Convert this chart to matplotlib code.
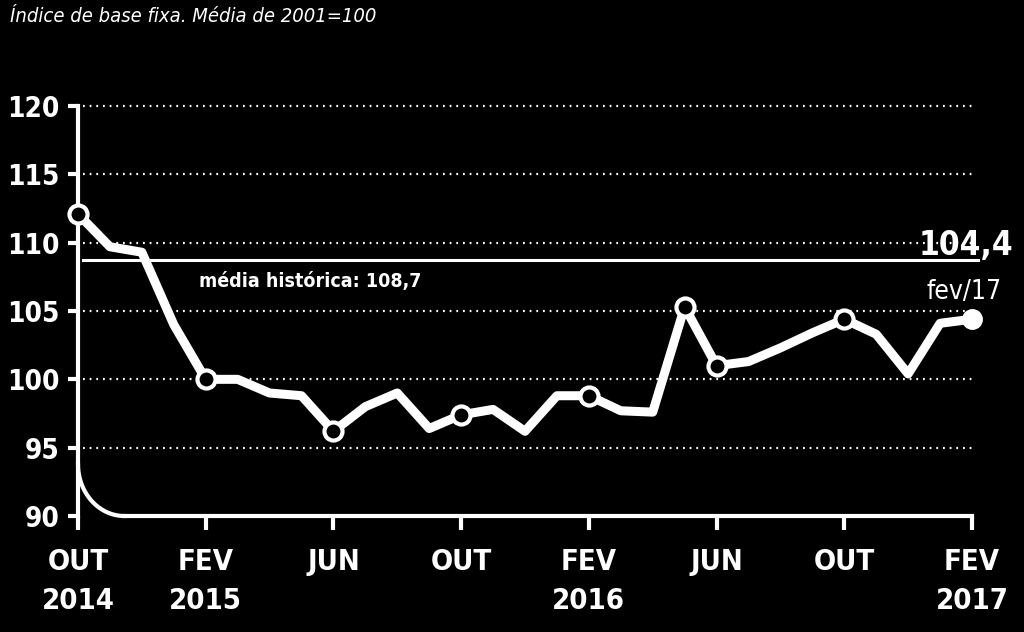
import numpy as np
import matplotlib as mpl
mpl.use('Agg')
from matplotlib import pyplot as plt
from matplotlib import font_manager
from matplotlib.font_manager import FontProperties

# ---------- data ----------
months = list(range(29))   # OUT 2014 .. FEV 2017
index = [112.1, 109.7, 109.3, 104.0, 100.0, 100.0, 99.0, 98.8, 96.2, 98.0,
         99.0, 96.4, 97.4, 97.8, 96.2, 98.8, 98.8, 97.7, 97.6, 105.3,
         101.0, 101.3, 102.3, 103.4, 104.4, 103.3, 100.4, 104.1, 104.4]
marked = [0, 4, 8, 12, 16, 19, 20, 24]
tick_pos = [0, 4, 8, 12, 16, 20, 24, 28]
tick_lbl = ["OUT\n2014", "FEV\n2015", "JUN", "OUT", "FEV\n2016", "JUN", "OUT", "FEV\n2017"]
yticks = [90, 95, 100, 105, 110, 115, 120]
media = 108.7

# look for a narrow/condensed face, else fall back to DejaVu
found = {}
for f in font_manager.fontManager.ttflist:
    narrowish = ('Narrow' in f.name or 'Condensed' in f.name or
                 f.stretch in ('condensed', 'semi-condensed', 'extra-condensed'))
    if not narrowish:
        continue
    w = f.weight if isinstance(f.weight, int) else 700 if f.weight == 'bold' else 400
    key = ('bold' if w >= 600 else 'reg', 'it' if f.style != 'normal' else 'up')
    found.setdefault(key, f.fname)

def fp(bold=False, italic=False, size=12):
    key = ('bold' if bold else 'reg', 'it' if italic else 'up')
    if key in found:
        return FontProperties(fname=found[key], size=size)
    return FontProperties(family='DejaVu Sans', weight='bold' if bold else 'normal',
                          style='italic' if italic else 'normal', size=size * 0.8)

fig = plt.figure(figsize=(10.24, 6.32), dpi=100, facecolor='black')
ax = fig.add_axes([78/1024, 116/632, 894/1024, 410/632], facecolor='black')
ax.set_xlim(0, 28)
ax.set_ylim(90, 120)

# grid + media line
for yv in yticks[1:]:
    ax.plot([0.15, 28.1], [yv, yv], color='white', lw=1.6, ls=(0, (0.8, 2.2)), clip_on=False, zorder=1)
ax.plot([0.15, 28.2], [media, media], color='white', lw=2.2, clip_on=False, zorder=2)
ax.text(3.8, 106.75, "média histórica: 108,7", color='white', fontproperties=fp(True, size=14), va='baseline')

# series
ax.plot(months, index, color='white', lw=6.5, solid_joinstyle='round', zorder=3, clip_on=False)
ax.plot([months[i] for i in marked], [index[i] for i in marked], 'o', ms=13,
        mfc='black', mec='white', mew=3, zorder=4, clip_on=False)
ax.plot(months[-1], index[-1], 'o', ms=14, mfc='white', mec='white', zorder=4, clip_on=False)

ax.text(27.8, 109.1, "104,4", color='white', fontproperties=fp(True, size=24), ha='center', va='baseline')
ax.text(27.75, 105.85, "fev/17", color='white', fontproperties=fp(False, size=19), ha='center', va='baseline')

# axes
for s in ['top', 'right']:
    ax.spines[s].set_visible(False)
ax.spines['left'].set_color('white')
ax.spines['left'].set_linewidth(3)
ax.spines['bottom'].set_color('white')
ax.spines['bottom'].set_linewidth(3)
ax.spines['bottom'].set_bounds(1.45, 28)
t = np.linspace(np.pi, 1.5*np.pi, 40)
ax.plot(1.45 + 1.45*np.cos(t), 93.8 + 3.8*np.sin(t), color='white', lw=3, clip_on=False)

ax.set_yticks(yticks)
ax.set_yticklabels([str(v) for v in yticks])
ax.set_xticks(tick_pos)
ax.set_xticklabels(tick_lbl, linespacing=1.5)
ax.tick_params(axis='y', colors='white', length=7, width=3, pad=6)
ax.tick_params(axis='x', colors='white', length=10, width=3, pad=13)
for lbl in ax.get_yticklabels():
    lbl.set_fontproperties(fp(True, size=20))
for lbl in ax.get_xticklabels():
    lbl.set_fontproperties(fp(True, size=21))

fig.text(10/1024, 1 - 7/632, "Índice de base fixa. Média de 2001=100", color='white',
         fontproperties=fp(False, True, size=14.5), va='top')

fig.savefig("out.png", dpi=100, facecolor='black')
